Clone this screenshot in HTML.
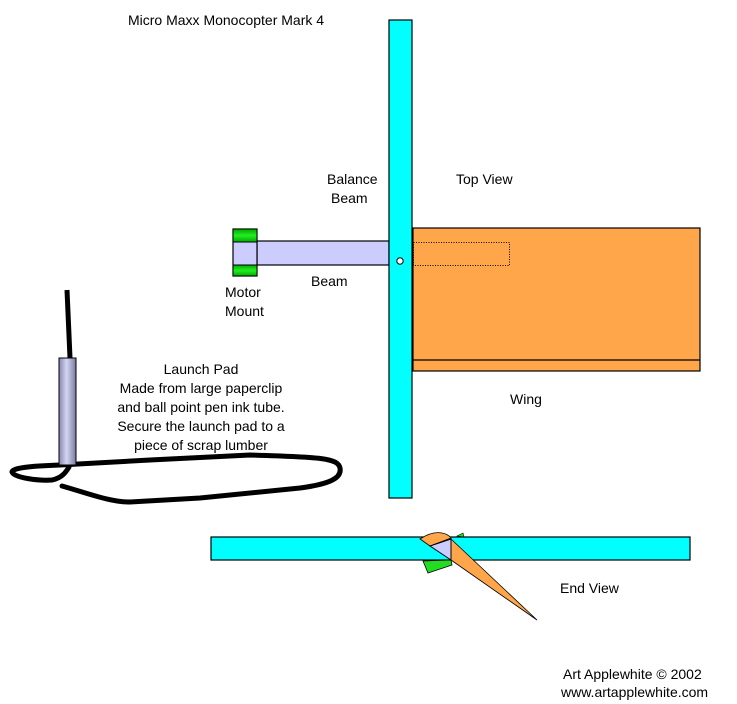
<!DOCTYPE html>
<html><head><meta charset="utf-8"><style>
html,body{margin:0;padding:0;background:#fff;}
svg{display:block;}
text{font-family:"Liberation Sans",Arial,sans-serif;font-size:14px;fill:#000;}
</style></head><body>
<svg width="737" height="704" viewBox="0 0 737 704" xmlns="http://www.w3.org/2000/svg">
<defs>
<linearGradient id="tube" x1="0" x2="1" y1="0" y2="0">
<stop offset="0" stop-color="#8888b0"/><stop offset="0.45" stop-color="#d4d4f4"/><stop offset="1" stop-color="#7a7aa0"/>
</linearGradient>
<linearGradient id="grn" x1="0" x2="0" y1="0" y2="1">
<stop offset="0" stop-color="#00aa00"/><stop offset="0.5" stop-color="#22ee22"/><stop offset="1" stop-color="#00aa00"/>
</linearGradient>
</defs>
<text x="128" y="25">Micro Maxx Monocopter Mark 4</text>
<rect x="413" y="228" width="287" height="143" fill="#ffa54a" stroke="#000" stroke-width="1.2"/>
<line x1="413" y1="360" x2="700" y2="360" stroke="#000" stroke-width="1.2"/>
<rect x="413.5" y="242.5" width="96" height="23" fill="none" stroke="#000" stroke-width="1" stroke-dasharray="1,1.5"/>
<rect x="257" y="241" width="132" height="24" fill="#ccccff" stroke="#000" stroke-width="1.2"/>
<rect x="233" y="229" width="24" height="47" fill="#ccccff" stroke="#000" stroke-width="1.2"/>
<rect x="233" y="229" width="24" height="13" fill="url(#grn)" stroke="#000" stroke-width="1"/>
<rect x="233" y="265" width="24" height="11" fill="url(#grn)" stroke="#000" stroke-width="1"/>
<rect x="389" y="20" width="23" height="478" fill="#00ffff" stroke="#000" stroke-width="1.2"/>
<circle cx="400" cy="261" r="3.2" fill="#fff" stroke="#000" stroke-width="1"/>
<text x="327" y="184">Balance</text>
<text x="331" y="203">Beam</text>
<text x="456" y="184">Top View</text>
<text x="311" y="286">Beam</text>
<text x="225" y="297">Motor</text>
<text x="225" y="316">Mount</text>
<text x="510" y="404">Wing</text>
<path d="M67,290 L70,358" stroke="#000" stroke-width="5" fill="none"/>
<path d="M62,486 C90,494 110,502 130,502 L200,498 L300,488 C330,484 342,478 340,468 C338,458 320,457 250,455 L150,460 L60,465 C30,466 12,468 12,472 C14,478 40,481 52,480 C62,478 66,472 69,467" stroke="#000" stroke-width="5" fill="none" stroke-linejoin="round" stroke-linecap="round"/>
<rect x="59" y="358" width="17" height="107" fill="url(#tube)" stroke="#000" stroke-width="1"/>
<g text-anchor="middle">
<text x="201" y="374">Launch Pad</text>
<text x="201" y="393">Made from large paperclip</text>
<text x="201" y="412">and ball point pen ink tube.</text>
<text x="201" y="431">Secure the launch pad to a</text>
<text x="201" y="450">piece of scrap lumber</text>
</g>
<rect x="211" y="537" width="479" height="23" fill="#00ffff" stroke="#000" stroke-width="1.2"/>
<polygon points="423,561 428,573 452,565 451,560" fill="#22dd22" stroke="#000" stroke-width="0.8"/>
<polygon points="457,536 463,533 464,537" fill="#22dd22" stroke="#000" stroke-width="0.6"/>
<path d="M420,539 Q432,531 442,533 Q448,534 451,538 L430,546 Z" fill="#ffa54a" stroke="#000" stroke-width="0.8"/>
<polygon points="451,539 451,560 537,620" fill="#ffa54a" stroke="#000" stroke-width="0.8"/>
<polygon points="430,546 451,539 451,560" fill="#ccccff" stroke="#000" stroke-width="1"/>
<text x="560" y="593">End View</text>
<text x="563" y="679">Art Applewhite © 2002</text>
<text x="561" y="697">www.artapplewhite.com</text>
</svg>
</body></html>
